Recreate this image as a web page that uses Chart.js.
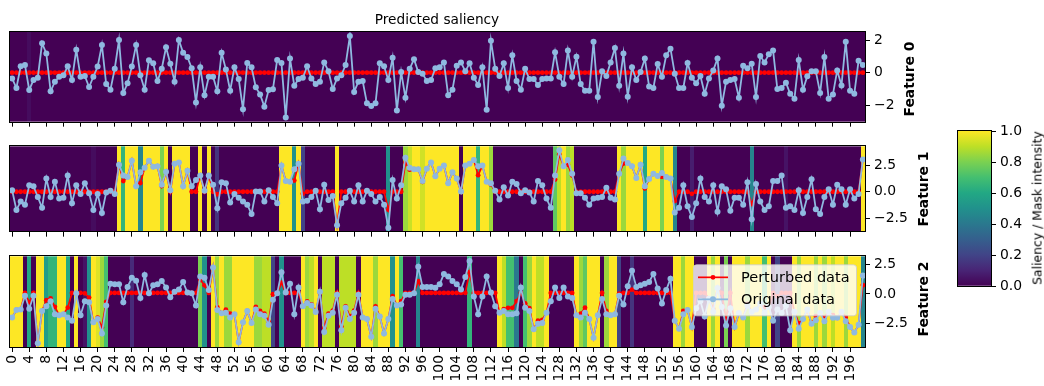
<!DOCTYPE html>
<html>
<head>
<meta charset="utf-8">
<script src="https://cdn.jsdelivr.net/npm/chart.js@4.4.1/dist/chart.umd.min.js"></script>
<style>
  body { margin: 0; background: #fff; width: 1044px; height: 386px; overflow: hidden; position: relative; font-family: "DejaVu Sans", sans-serif; }
  canvas { position: absolute; }
  .lbl { position: absolute; white-space: nowrap; color: #000; z-index: 5; }
  .rot { transform: translate(-50%, -50%) rotate(-90deg); }
</style>
</head>
<body>
<canvas id="f0" width="940" height="134" style="left:0;top:0"></canvas>
<canvas id="f1" width="940" height="110" style="left:0;top:134px"></canvas>
<canvas id="f2" width="940" height="142" style="left:0;top:244px"></canvas>
<canvas id="cbar" width="104" height="386" style="left:940px;top:0"></canvas>
<div class="lbl" style="left:437px;top:19px;transform:translate(-50%,-50%);font-size:13.7px">Predicted saliency</div>
<div class="lbl rot" style="left:909px;top:79px;font-size:13.9px;font-weight:bold">Feature 0</div>
<div class="lbl rot" style="left:923px;top:189px;font-size:13.9px;font-weight:bold">Feature 1</div>
<div class="lbl rot" style="left:923px;top:299px;font-size:13.9px;font-weight:bold">Feature 2</div>
<div class="lbl rot" style="left:1037px;top:208px;font-size:12.4px">Saliency / Mask intensity</div>
<script>
// --- data ---
const STEPS = Array.from({ length: 200 }, (_, i) => i);
const X_TICKS = Array.from({ length: 50 }, (_, i) => i * 4);

const F0_ORIG = [
  -0.35, -0.94, 0.39, 0.47, -1.06, -0.45, -0.31, 1.8, 1.18, -1.14,
  -0.55, -0.25, -0.16, 0.39, -0.45, 1.41, -0.25, -0.2, -0.88, -0.25,
  0.37, 1.7, -0.7, -1.04, 0.24, 2.0, -1.25, -0.65, 0.37, 1.7,
  -0.16, -1.04, 0.76, 0.57, -0.51, 0.24, 1.55, 0.55, -0.55, 2.0,
  1.22, 0.96, 0.27, -1.82, 0.33, -1.39, -0.25, -0.25, -1.14, 1.22,
  0.2, -1.1, 0.33, -0.39, -2.24, 0.59, 0.33, -0.9, -1.33, -2.08,
  -1.06, -1.02, 0.78, 0.59, -2.75, 0.86, -0.8, -0.39, -0.31, 0.39,
  -0.35, -0.7, -0.55, 0.63, 0.08, -1.0, -0.35, -0.16, 0.47, 2.24,
  -1.18, -0.55, -0.51, -1.88, -2.04, -1.88, 0.57, 0.39, -0.45, 0.92,
  -2.31, 0.04, -1.53, 0.24, 0.82, 0.04, -0.06, -0.51, -0.45, 0.27,
  0.33, 0.63, -1.39, -1.04, 0.43, 0.63, 0.08, 0.57, -0.31, -0.75,
  0.33, -2.27, 1.96, 0.24, -0.2, 0.57, -0.94, 1.06, -0.51, -1.04,
  0.24, -0.39, -0.39, -0.75, -0.39, -0.35, -0.35, 1.25, -0.25, -0.7,
  1.35, -0.25, 0.98, -0.7, -1.1, -1.1, 1.9, -1.49, 0.08, -0.2,
  0.63, 1.51, -0.8, 1.18, -1.47, 0.33, -0.45, 0.04, 0.86, -0.84,
  -0.94, 0.53, -0.25, 1.06, 1.47, -0.06, -0.94, -0.94, 0.59, -0.31,
  -0.65, -0.2, -1.29, -0.35, 0.14, 0.86, -2.02, -0.55, -0.45, -0.39,
  -1.53, 0.43, 0.27, 0.55, -1.49, 1.02, 0.63, 1.12, 1.35, -1.0,
  -0.94, -0.61, -1.29, -1.59, 0.78, -1.04, -0.22, 0.08, 0.08, -1.24,
  0.96, -1.59, -1.33, 0.14, -0.78, 1.9, -1.1, -1.29, 0.73, 0.47
];
const F0_PERT = [
  0, 0, 0, 0, 0, 0, 0, 0, 0, 0,  0, 0, 0, 0, 0, 0, 0, 0, 0, 0,
  0, 0, 0, 0, 0, 0, 0, 0, 0, 0,  0, 0, 0, 0, 0, 0, 0, 0, 0, 0,
  0, 0, 0, 0, 0, 0, 0, 0, 0, 0,  0, 0, 0, 0, 0, 0, 0, 0, 0, 0,
  0, 0, 0, 0, 0, 0, 0, 0, 0, 0,  0, 0, 0, 0, 0, 0, 0, 0, 0, 0,
  0, 0, 0, 0, 0, 0, 0, 0, 0, 0,  0, 0, 0, 0, 0, 0, 0, 0, 0, 0,
  0, 0, 0, 0, 0, 0, 0, 0, 0, 0,  0, 0, 0, 0, 0, 0, 0, 0, 0, 0,
  0, 0, 0, 0, 0, 0, 0, 0, 0, 0,  0, 0, 0, 0, 0, 0, 0, 0, 0, 0,
  0, 0, 0, 0, 0, 0, 0, 0, 0, 0,  0, 0, 0, 0, 0, 0, 0, 0, 0, 0,
  0, 0, 0, 0, 0, 0, 0, 0, 0, 0,  0, 0, 0, 0, 0, 0, 0, 0, 0, 0,
  0, 0, 0, 0, 0, 0, 0, 0, 0, 0,  0, 0, 0, 0, 0, 0, 0, 0, 0, 0
];
const F0_MASK = [
  0, 0, 0, 0, 0.03, 0, 0, 0, 0, 0,  0, 0, 0, 0, 0, 0, 0, 0, 0, 0,
  0, 0, 0, 0, 0, 0, 0, 0, 0, 0,  0, 0, 0, 0, 0, 0, 0, 0, 0, 0,
  0, 0, 0, 0, 0, 0, 0, 0, 0, 0,  0, 0, 0, 0, 0, 0, 0, 0, 0, 0,
  0, 0, 0, 0, 0, 0, 0, 0, 0, 0,  0, 0, 0, 0, 0, 0, 0, 0, 0, 0,
  0, 0, 0, 0, 0, 0, 0, 0, 0, 0,  0, 0, 0, 0, 0, 0, 0, 0, 0, 0,
  0, 0, 0, 0, 0, 0, 0, 0, 0, 0,  0, 0, 0, 0, 0, 0, 0, 0, 0, 0,
  0, 0, 0, 0, 0, 0, 0, 0, 0, 0,  0, 0, 0, 0, 0, 0, 0, 0, 0, 0,
  0, 0, 0, 0, 0, 0, 0, 0, 0, 0,  0, 0, 0, 0, 0, 0, 0, 0, 0, 0,
  0, 0, 0, 0, 0, 0, 0, 0, 0, 0,  0, 0, 0, 0, 0, 0, 0, 0, 0, 0,
  0, 0, 0, 0, 0, 0, 0, 0, 0, 0,  0, 0, 0, 0, 0, 0, 0, 0, 0, 0
];

const F1_ORIG = [
  0.14, -1.7, -0.92, -1.21, 0.61, 0.52, -0.49, -1.5, 1.24, -0.49,
  0.95, -0.64, -0.55, 1.53, -1.07, 0.61, -0.2, 0.81, -0.14, -1.7,
  -0.2, -1.99, -0.06, 0.09, -0.2, 2.54, 1.53, 1.39, 2.92, 0.52,
  1.82, 2.25, 2.92, 2.34, 2.4, 0.66, 1.88, 0.14, 2.63, 2.75,
  0.52, 1.97, 0.52, 1.1, 1.53, 0.09, 1.53, 0.66, -1.55, 0.9,
  0.81, -1.01, -0.2, -0.55, -0.92, -1.21, -2.08, 0.03, 0.03, -0.92,
  0.14, -0.49, -1.07, 2.46, 1.01, 0.95, 2.11, 2.63, -0.92, -0.84,
  -0.49, 0.09, -1.65, 0.66, -0.78, -0.4, -3.15, -1.07, -0.55, 0.09,
  -0.92, 0.61, -0.92, 0.09, -0.2, -0.92, -0.49, -1.21, -3.38, 1.1,
  -0.64, 0.61, 3.2, 2.25, 2.11, 2.11, 1.01, 2.17, 2.75, 1.45,
  2.17, 2.46, 0.81, 1.82, 1.24, 0.03, 2.46, 2.63, 2.98, 2.4,
  2.46, 0.95, 0.81, 0.09, -0.72, 0.43, -0.35, 0.95, 0.72, -0.14,
  0.14, -0.06, -0.92, 1.01, 0.61, -0.64, -1.5, 1.53, 3.9, 2.4,
  2.98, 1.7, -0.14, -0.14, -0.55, -1.21, -0.64, -0.55, -0.49, 0.38,
  -0.55, -0.72, 1.68, 3.12, 2.69, 2.4, 1.3, 2.54, 0.52, 1.2,
  1.68, 1.47, 1.76, 1.39, 1.24, -1.94, -1.5, 0.61, -1.36, -2.37,
  -1.07, 1.24, -0.49, -0.92, 0.61, -1.88, 0.52, 0.23, -1.79, -0.55,
  -0.55, -1.21, 0.9, -2.57, 0.72, -0.92, -1.7, -1.36, 1.01, 1.01,
  1.53, -1.5, -1.36, -1.7, 0.14, -1.99, -0.49, 1.18, -1.65, -2.08,
  -0.49, 0.23, -1.21, 0.66, 0.23, -1.21, 0.23, -0.64, -0.2, 3.03
];
const F1_PERT = [
  0, 0, 0, 0, 0, 0, 0, 0, 0, 0,  0, 0, 0, 0, 0, 0, 0, 0, 0, 0,
  0, 0, 0, 0, 0, 2.54, 1.0, 1.39, 2.92, 0.52,
  0.82, 2.25, 2.92, 2.34, 2.4, 0.53, 1.88, 0, 2.63, 2.75,
  0.52, 1.97, 0, 0, 1.53, 0, 1.53, 0, -0.23, 0,
  0, 0, 0, 0, 0, 0, 0, 0, 0, 0,
  0, 0, 0, 2.46, 1.01, 0.95, 1.05, 2.63, -0.18, 0,
  0, 0, 0, 0, 0, 0, -3.15, 0, 0, 0,
  0, 0, 0, 0, 0, 0, 0, 0, -1.69, 0,
  0, 0, 2.72, 2.07, 2.11, 2.11, 0.94, 2.17, 2.75, 1.45,
  2.17, 2.46, 0.81, 1.82, 1.24, 0, 2.46, 2.63, 2.98, 1.56,
  2.46, 0.95, 0.69, 0, 0, 0, 0, 0, 0, 0,
  0, 0, 0, 0, 0, 0, 0, 1.15, 3.51, 2.4,
  2.53, 1.53, 0, 0, 0, 0, 0, 0, 0, 0,
  0, 0, 1.68, 2.65, 2.69, 2.4, 1.3, 2.54, 0.31, 1.2,
  1.68, 1.47, 1.41, 1.39, 1.24, -0.87, 0, 0, 0, -0.19,
  0, 0, 0, 0, 0, 0, 0, 0, 0, 0,
  0, 0, 0, -1.16, 0, 0, 0, 0, 0, 0,
  0, 0, 0, 0, 0, 0, 0, 0, 0, 0,
  0, 0, 0, 0, 0, 0, 0, 0, 0, 3.03
];
const F1_MASK = [
  0, 0, 0, 0, 0, 0, 0, 0, 0, 0,  0, 0, 0, 0, 0, 0, 0, 0, 0, 0.03,
  0, 0, 0, 0, 0, 1, 0.65, 1, 1, 1,
  0.45, 1, 1, 1, 1, 0.8, 1, 0, 1, 1,
  1, 1, 0, 0, 1, 0, 1, 0, 0.15, 0,
  0, 0, 0, 0, 0, 0, 0, 0, 0, 0,
  0, 0, 0, 1, 1, 1, 0.5, 1, 0.2, 0,
  0, 0, 0, 0, 0, 0, 1, 0, 0, 0,
  0, 0, 0, 0, 0, 0, 0, 0, 0.5, 0,
  0, 0, 0.85, 0.92, 1, 1, 0.93, 1, 1, 1,
  1, 1, 1, 1, 1, 0, 1, 1, 1, 0.65,
  1, 1, 0.85, 0, 0, 0, 0, 0, 0, 0,
  0, 0, 0, 0, 0, 0, 0, 0.75, 0.9, 1,
  0.85, 0.9, 0, 0, 0, 0, 0, 0, 0, 0,
  0, 0, 1, 0.85, 1, 1, 1, 1, 0.6, 1,
  1, 1, 0.8, 1, 1, 0.45, 0, 0, 0, 0.08,
  0, 0, 0, 0, 0, 0, 0, 0, 0, 0,
  0, 0, 0, 0.45, 0, 0, 0, 0, 0, 0,
  0, 0.05, 0, 0, 0, 0, 0, 0, 0, 0,
  0, 0, 0, 0, 0, 0, 0, 0, 0, 1
];

const F2_ORIG = [
  -1.97, -1.35, -1.3, -0.16, -1.24, -0.16, -4.14, -1.43, -1.03, -0.62,
  -1.7, -1.78, -1.7, -1.97, -2.24, 0.05, -1.78, -0.62, -0.7, -2.38,
  -2.1, -3.32, -0.97, 0.86, 0.81, 0.81, -0.7, 0.59, 1.35, 1.1,
  -0.35, 1.59, 0.05, 0.73, 0.81, 1.08, 0.54, -0.27, 0.19, 0.38,
  1.0, 0.11, 0.05, -0.97, 1.46, 1.35, 0.32, 2.22, -1.35, -1.62,
  -1.57, -1.97, -1.7, -4.05, -2.38, -1.43, -2.43, -1.3, -1.7, -1.84,
  -2.59, -0.49, 0.05, 1.81, 0.11, 0.86, -1.7, 0.54, -1.03, -0.76,
  -0.97, -1.51, 0.19, -3.19, -1.84, -1.57, -0.08, -3.05, -1.16, -2.1,
  -1.57, -0.08, -1.97, -2.1, -3.59, -1.24, -1.89, -3.32, -2.1, -0.43,
  -0.97, -0.89, -0.08, -0.08, 0.05, 2.27, 0.59, 0.59, 0.59, 0.52,
  0.8, 1.68, 1.46, 1.08, 0.81, 0.38, 1.41, 2.76, -0.22, -1.7,
  -0.22, 1.46, 0.11, -1.03, -1.57, -1.43, -1.7, -1.7, -1.62, 0.54,
  -1.16, -1.43, -2.97, -2.51, -2.43, -1.57, -0.62, 0.54, -0.35, 0.54,
  -0.22, -0.35, -1.78, -1.97, -1.57, -2.1, -3.68, -1.78, -0.43, -1.7,
  -1.78, -1.7, -0.16, -0.89, 0.65, 1.95, 0.59, 0.73, 0.86, 1.0,
  1.68, 0.46, -0.81, 0.32, 1.27, -2.24, -2.92, -1.7, -1.35, -2.78,
  -1.2, -0.6, -1.9, -0.4, -1.5, 0.5, -1.1, -2.65, -1.2, -2.78,
  -1.6, -1.97, -1.0, -1.5, -1.3, -0.8, -1.6, -1.1, -2.24, -1.3,
  -1.6, -1.0, -3.05, -1.5, -2.92, -2.1, -1.3, -2.5, -2.2, -1.6,
  -2.3, -1.5, -2.0, -2.0, -1.5, -2.3, -2.78, -3.24, -2.59, 1.54
];
const F2_PERT = [
  -1.97, -1.35, -1.3, 0.08, -0.71, 0.08, -4.14, -1.43, -0.53, -0.38,
  -1.08, -1.78, -1.7, -1.15, 0.08, 0.05, 0.08, 0.05, -0.31, -2.38,
  -1.99, -2.81, -0.66, 0.08, 0.08, 0.08, 0.08, 0.08, 0.08, 0.08,
  0.08, 0.08, 0.08, 0.08, 0.08, 0.08, 0.08, 0.08, 0.08, 0.08,
  0.08, 0.08, 0.08, 0.08, 1.18, 0.72, 0.08, 2.22, -1.14, -1.62,
  -1.32, -1.66, -1.7, -4.05, -2.38, -1.43, -2.43, -1.09, -1.43, -1.65,
  -2.32, -0.03, 0.08, 0.95, 0.08, 0.08, 0.08, 0.08, -1.03, -0.63,
  -0.87, -1.51, 0.08, -2.86, -1.65, -1.41, 0.08, -2.74, -1.04, -1.88,
  -1.41, 0.08, -1.97, -2.1, -3.59, -1.04, -1.89, -3.32, -2.1, -0.18,
  -0.97, -0.6, 0.08, 0.08, 0.08, 1.06, 0.08, 0.08, 0.08, 0.08,
  0.08, 0.08, 0.08, 0.08, 0.08, 0.08, 0.08, 1.82, 0.08, 0.08,
  0.08, 0.08, 0.08, 0.08, -1.57, -1.28, -1.17, -1.17, -0.6, 0.08,
  -0.79, -1.2, -2.97, -2.25, -2.18, -1.57, 0.08, 0.08, 0.08, 0.08,
  0.08, 0.08, -1.78, -1.66, -1.16, -2.1, -3.68, -1.78, 0.08, -1.43,
  -1.78, -1.7, 0.03, 0.08, 0.08, 0.36, 0.08, 0.08, 0.08, 0.08,
  0.08, 0.08, 0.08, 0.08, 0.08, -2.24, -2.92, -1.43, -1.35, -2.78,
  0.08, 0.08, 0.08, -0.4, -1.26, 0.5, 0.08, -2.1, 0.08, -2.78,
  -1.6, -1.97, -0.84, -1.5, -1.3, -0.8, -1.1, -1.1, 0.08, -0.2,
  0.08, 0.08, 0.08, -1.5, -2.47, -2.1, -1.3, -2.5, -1.86, -1.6,
  -1.94, -1.5, -1.79, -2.0, -1.5, -1.94, -2.78, -3.24, -2.59, 0.74
];
const F2_MASK = [
  1, 1, 1, 0, 0.6, 0, 1, 1, 0.55, 0.65,
  0.65, 1, 1, 0.6, 0, 1, 0, 0.05, 0.5, 1,
  0.95, 0.85, 0.7, 0, 0, 0, 0, 0, 0.12, 0,
  0, 0, 0, 0, 0, 0, 0, 0, 0, 0,
  0, 0, 0, 0, 0.8, 0.5, 0, 1, 0.85, 1,
  0.85, 0.85, 1, 1, 1, 1, 1, 0.85, 0.85, 0.9,
  0.9, 0.2, 0, 0.5, 0, 0, 0, 0, 1, 0.85,
  0.9, 1, 0, 0.9, 0.9, 0.9, 0, 0.9, 0.9, 0.9,
  0.9, 0, 1, 1, 1, 0.85, 1, 1, 1, 0.5,
  1, 0.7, 0, 0, 0, 0.45, 0, 0, 0, 0,
  0, 0, 0, 0, 0, 0, 0, 0.65, 0, 0,
  0, 0, 0, 0, 1, 0.9, 0.7, 0.7, 0.4, 0,
  0.7, 0.85, 1, 0.9, 0.9, 1, 0, 0, 0, 0,
  0, 0, 1, 0.85, 0.75, 1, 1, 1, 0, 0.85,
  1, 1, 0.2, 0, 0, 0.15, 0, 0, 0, 0,
  0, 0, 0, 0, 0, 1, 1, 0.85, 1, 1,
  0, 0, 0, 1, 0.85, 1, 0, 0.8, 0, 1,
  1, 1, 0.85, 1, 1, 1, 0.7, 1, 0, 0.2,
  0, 0, 0, 1, 0.85, 1, 1, 1, 0.85, 1,
  0.85, 1, 0.9, 1, 1, 0.85, 1, 1, 1, 0.45
];

const F0_TICKS = [-2, 0, 2];
const F12_TICKS = [-2.5, 0, 2.5];
const CBAR_TICKS = [0, 0.2, 0.4, 0.6, 0.8, 1.0];

const RED = '#ff0000';
const BLUE = '#8fb9e0';
const TICK_FONT = { family: 'DejaVu Sans', size: 13.9 };

// viridis stops
const VIRIDIS = ['#440154', '#482475', '#414487', '#355f8d', '#2a788e', '#21918c', '#22a884', '#44bf70', '#7ad151', '#bddf26', '#fde725'];

function hexRgb(h) {
    return [parseInt(h.slice(1, 3), 16), parseInt(h.slice(3, 5), 16), parseInt(h.slice(5, 7), 16)];
}
function viridis(t) {
    t = Math.max(0, Math.min(1, t));
    const p = t * (VIRIDIS.length - 1);
    const k = Math.min(Math.floor(p), VIRIDIS.length - 2);
    const f = p - k;
    const a = hexRgb(VIRIDIS[k]), b = hexRgb(VIRIDIS[k + 1]);
    return `rgb(${a.map((v, j) => Math.round(v + (b[j] - v) * f)).join(',')})`;
}

// mask drawn behind the lines, one cell per time step
function heatmapPlugin(mask) {
    return {
        id: 'heatmap',
        beforeDatasetsDraw(chart) {
            const { ctx, chartArea: a, scales: { x } } = chart;
            ctx.save();
            mask.forEach((m, i) => {
                const x0 = Math.round(x.getPixelForValue(i - 0.5));
                const x1 = Math.round(x.getPixelForValue(i + 0.5));
                ctx.fillStyle = viridis(m);
                ctx.fillRect(x0, a.top, x1 - x0, a.bottom - a.top);
            });
            ctx.restore();
        }
    };
}

const framePlugin = {
    id: 'frame',
    afterDatasetsDraw(chart) {
        const { ctx, chartArea: a } = chart;
        ctx.save();
        ctx.strokeStyle = '#000';
        ctx.lineWidth = 1;
        ctx.strokeRect(Math.round(a.left) - 0.5, Math.round(a.top) - 0.5, Math.round(a.right - a.left) + 1, Math.round(a.bottom - a.top) + 1);
        ctx.restore();
    }
};

// legend box in the lower panel (matplotlib style)
const legendPlugin = {
    id: 'legendBox',
    afterDraw(chart) {
        const { ctx, chartArea: a } = chart;
        const w = 163, h = 51;
        const x = a.right - 9 - w, y = a.top + 8;
        ctx.save();
        ctx.beginPath();
        ctx.roundRect(x + 0.5, y + 0.5, w, h, 3);
        ctx.fillStyle = 'rgba(255,255,255,0.8)';
        ctx.fill();
        ctx.strokeStyle = 'rgba(204,204,204,0.8)';
        ctx.lineWidth = 1;
        ctx.stroke();
        chart.data.datasets.forEach((ds, k) => {
            const yy = y + 13 + k * 22;
            ctx.strokeStyle = ds.borderColor;
            ctx.lineWidth = ds.borderWidth;
            ctx.beginPath();
            ctx.moveTo(x + 5, yy);
            ctx.lineTo(x + 35, yy);
            ctx.stroke();
            ctx.fillStyle = ds.borderColor;
            ctx.beginPath();
            ctx.arc(x + 20, yy, ds.pointRadius, 0, Math.PI * 2);
            ctx.fill();
            ctx.fillStyle = '#000';
            ctx.font = '14.5px "DejaVu Sans"';
            ctx.textBaseline = 'middle';
            ctx.fillText(ds.label, x + 48, yy + 1);
        });
        ctx.restore();
    }
};

const minus = s => s.replace('-', '\u2212');

function featureChart(id, orig, pert, mask, yMin, yMax, yTicks, dec, opt) {
    return new Chart(document.getElementById(id), {
        type: 'line',
        data: {
            labels: STEPS,
            datasets: [
                { label: 'Perturbed data', data: pert, borderColor: RED, backgroundColor: RED, borderWidth: 1.7, pointRadius: 2.4, pointBorderWidth: 0, order: 2 },
                { label: 'Original data', data: orig, borderColor: BLUE, backgroundColor: BLUE, borderWidth: 1.8, pointRadius: 3, pointBorderWidth: 0, order: 1 }
            ]
        },
        options: {
            responsive: false,
            animation: false,
            devicePixelRatio: 1,
            layout: { padding: { left: 10, top: opt.top, right: 0, bottom: 0 } },
            plugins: { legend: { display: false }, tooltip: { enabled: false } },
            scales: {
                x: {
                    type: 'linear', min: -0.5, max: 199.5,
                    afterFit: s => { s.height = opt.xh; },
                    afterBuildTicks: s => { s.ticks = X_TICKS.map(v => ({ value: v })); },
                    grid: { drawOnChartArea: false, color: '#000', tickLength: 5, tickWidth: 1 },
                    border: { display: false },
                    ticks: { display: opt.labels, autoSkip: false, maxRotation: 90, minRotation: 90, padding: 3, color: '#000', font: TICK_FONT, callback: v => String(v) }
                },
                y: {
                    position: 'right', min: yMin, max: yMax,
                    afterFit: s => { s.width = 75; },
                    afterBuildTicks: s => { s.ticks = yTicks.map(v => ({ value: v })); },
                    grid: { drawOnChartArea: false, color: '#000', tickLength: 5, tickWidth: 1 },
                    border: { display: false },
                    ticks: { padding: 4, color: '#000', font: TICK_FONT, callback: v => minus(v.toFixed(dec)) }
                }
            }
        },
        plugins: opt.legend ? [heatmapPlugin(mask), framePlugin, legendPlugin] : [heatmapPlugin(mask), framePlugin]
    });
}

featureChart('f0', F0_ORIG, F0_PERT, F0_MASK, -3.0, 2.49, F0_TICKS, 0, { top: 32, xh: 8, labels: false });
featureChart('f1', F1_ORIG, F1_PERT, F1_MASK, -3.74, 4.26, F12_TICKS, 1, { top: 8, xh: 8, labels: false });
featureChart('f2', F2_ORIG, F2_PERT, F2_MASK, -4.45, 3.15, F12_TICKS, 1, { top: 8, xh: 39, labels: true, legend: true });

// colorbar
new Chart(document.getElementById('cbar'), {
    type: 'bar',
    data: {
        labels: [''],
        datasets: [{
            data: [1],
            barPercentage: 1,
            categoryPercentage: 1,
            backgroundColor: c => {
                const a = c.chart.chartArea;
                if (!a) return '#440154';
                const g = c.chart.ctx.createLinearGradient(0, a.bottom, 0, a.top);
                VIRIDIS.forEach((col, k) => g.addColorStop(k / (VIRIDIS.length - 1), col));
                return g;
            }
        }]
    },
    options: {
        responsive: false,
        animation: false,
        devicePixelRatio: 1,
        layout: { padding: { left: 18, top: 131, right: 0, bottom: 100 } },
        plugins: { legend: { display: false }, tooltip: { enabled: false } },
        scales: {
            x: { display: false },
            y: {
                position: 'right', min: 0, max: 1,
                afterFit: s => { s.width = 53; },
                afterBuildTicks: s => { s.ticks = CBAR_TICKS.map(v => ({ value: v })); },
                grid: { drawOnChartArea: false, color: '#000', tickLength: 5 },
                border: { display: false },
                ticks: { padding: 4, color: '#000', font: TICK_FONT, callback: v => v.toFixed(1) }
            }
        }
    },
    plugins: [framePlugin]
});
</script>
</body>
</html>
